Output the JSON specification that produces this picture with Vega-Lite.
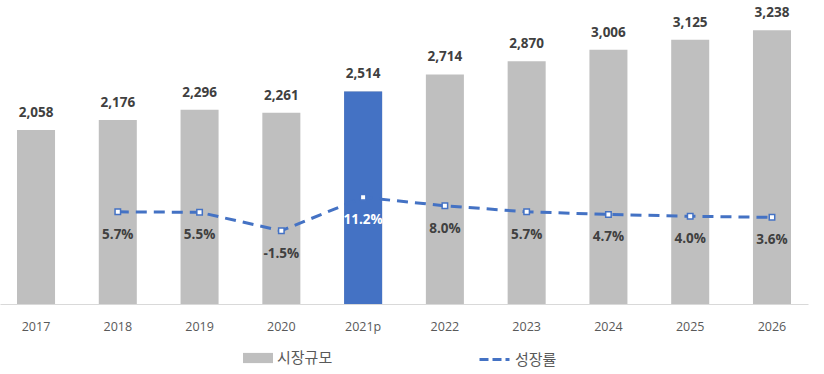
{
  "$schema": "https://vega.github.io/schema/vega-lite/v6.json",
  "width": 808,
  "height": 296,
  "autosize": {"type": "none"},
  "padding": {"left": 0, "top": 8, "right": 16, "bottom": 70},
  "background": "white",
  "config": {
    "view": {"stroke": null},
    "font": "Open Sans"
  },
  "data": {
    "values": [
      {"year": "2017", "size": 2058, "growth": null},
      {"year": "2018", "size": 2176, "growth": 0.057},
      {"year": "2019", "size": 2296, "growth": 0.055},
      {"year": "2020", "size": 2261, "growth": -0.015},
      {"year": "2021p", "size": 2514, "growth": 0.112},
      {"year": "2022", "size": 2714, "growth": 0.080},
      {"year": "2023", "size": 2870, "growth": 0.057},
      {"year": "2024", "size": 3006, "growth": 0.047},
      {"year": "2025", "size": 3125, "growth": 0.040},
      {"year": "2026", "size": 3238, "growth": 0.036}
    ]
  },
  "encoding": {
    "x": {
      "field": "year",
      "type": "nominal",
      "sort": null,
      "scale": {"paddingInner": 0.535, "paddingOuter": 0.208},
      "axis": {
        "title": null,
        "labelAngle": 0,
        "ticks": false,
        "domainColor": "#D9D9D9",
        "domainWidth": 1,
        "labelColor": "#595959",
        "labelFontSize": 12.5,
        "labelFont": "Open Sans",
        "labelPadding": 16,
        "grid": false
      }
    }
  },
  "layer": [
    {
      "layer": [
        {
          "mark": {"type": "bar"},
          "encoding": {
            "y": {"field": "size", "type": "quantitative", "scale": {"domain": [0, 3500], "nice": false}, "axis": null},
            "fill": {
              "datum": "시장규모",
              "type": "nominal",
              "scale": {"domain": ["시장규모"], "range": ["#BFBFBF"]},
              "legend": {
                "title": null,
                "orient": "none",
                "legendX": 243,
                "legendY": 335,
                "symbolType": "M-1,-0.34H1V0.34H-1Z",
                "symbolSize": 900,
                "symbolStrokeWidth": 0,
                "labelFont": "Noto Sans CJK KR",
                "labelFontSize": 15,
                "labelColor": "#595959",
                "labelOffset": 4
              }
            }
          }
        },
        {
          "transform": [{"filter": "datum.year === '2021p'"}],
          "mark": {"type": "bar", "color": "#4472C4"},
          "encoding": {
            "y": {"field": "size", "type": "quantitative"}
          }
        },
        {
          "mark": {"type": "text", "dy": -17, "fontWeight": "bold", "fontSize": 13.5, "color": "#404040", "font": "Open Sans"},
          "encoding": {
            "y": {"field": "size", "type": "quantitative"},
            "text": {"field": "size", "type": "quantitative", "format": ","}
          }
        }
      ]
    },
    {
      "transform": [
        {"filter": "datum.growth !== null"},
        {"calculate": "replace(format(datum.growth, '.1%'), '\u2212', '-')", "as": "growthLabel"}
      ],
      "layer": [
        {
          "mark": {"type": "line", "strokeWidth": 3, "strokeDash": [11, 7], "color": "#4472C4"},
          "encoding": {
            "y": {"field": "growth", "type": "quantitative", "scale": {"domain": [-0.2935, 0.832], "nice": false}, "axis": null},
            "stroke": {
              "datum": "성장률",
              "type": "nominal",
              "scale": {"domain": ["성장률"], "range": ["#4472C4"]},
              "legend": {
                "title": null,
                "orient": "none",
                "legendX": 478,
                "legendY": 335,
                "symbolType": "stroke",
                "symbolSize": 900,
                "symbolStrokeWidth": 3,
                "symbolDash": [9, 4],
                "labelFont": "Noto Sans CJK KR",
                "labelFontSize": 15,
                "labelColor": "#595959",
                "labelOffset": 4
              }
            }
          }
        },
        {
          "mark": {"type": "point", "shape": "square", "size": 30, "filled": true, "fill": "white", "stroke": "#4472C4", "strokeWidth": 1.5, "opacity": 1},
          "encoding": {
            "y": {"field": "growth", "type": "quantitative"}
          }
        },
        {
          "mark": {"type": "text", "dy": 23, "fontWeight": "bold", "fontSize": 13.5, "font": "Open Sans"},
          "encoding": {
            "y": {"field": "growth", "type": "quantitative"},
            "text": {"field": "growthLabel", "type": "nominal"},
            "color": {"condition": {"test": "datum.year === '2021p'", "value": "white"}, "value": "#404040"}
          }
        }
      ]
    }
  ],
  "resolve": {"scale": {"y": "independent"}}
}
